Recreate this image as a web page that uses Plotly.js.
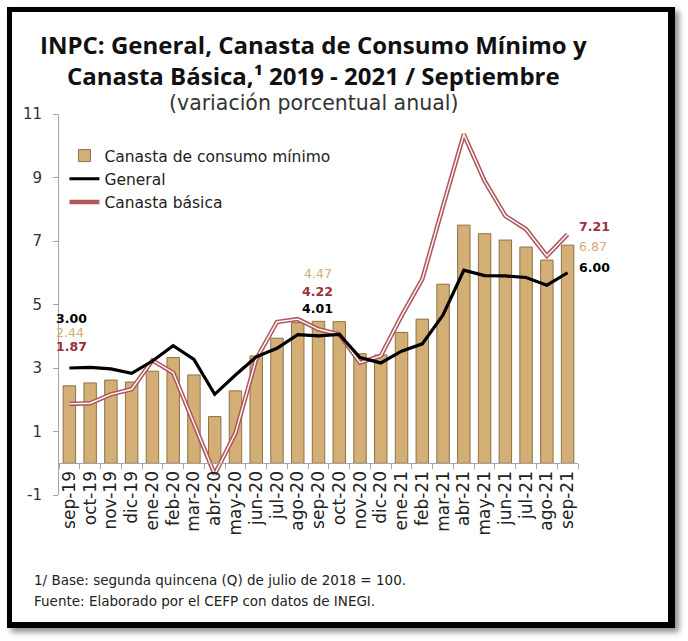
<!DOCTYPE html>
<html>
<head>
<meta charset="utf-8">
<script src="https://cdn.plot.ly/plotly-3.0.1.min.js"></script>
<style>
  html, body { margin:0; padding:0; background:#fff; width:688px; height:641px; overflow:hidden; }
  #frame { position:absolute; left:7px; top:7px; width:668px; height:621px; box-sizing:border-box;
           border:5px solid #000; border-right-width:7px; border-bottom-width:6px;
           box-shadow:4px 4px 6px rgba(0,0,0,0.45); background:#fff; }
  #chart { position:absolute; left:0; top:0; width:688px; height:641px; }
</style>
</head>
<body>
<div id="frame"></div>
<div id="chart"></div>
<script>
// ---- data ----
const months = ['sep-19','oct-19','nov-19','dic-19','ene-20','feb-20','mar-20','abr-20','may-20','jun-20','jul-20','ago-20','sep-20','oct-20','nov-20','dic-20','ene-21','feb-21','mar-21','abr-21','may-21','jun-21','jul-21','ago-21','sep-21'];
const consumoMinimo = [2.44, 2.53, 2.62, 2.56, 2.90, 3.33, 2.78, 1.47, 2.28, 3.38, 3.94, 4.43, 4.47, 4.46, 3.45, 3.41, 4.12, 4.54, 5.64, 7.50, 7.23, 7.03, 6.81, 6.40, 6.87];
const general       = [3.00, 3.02, 2.97, 2.83, 3.22, 3.70, 3.27, 2.17, 2.78, 3.35, 3.62, 4.05, 4.01, 4.06, 3.33, 3.16, 3.53, 3.76, 4.67, 6.08, 5.91, 5.90, 5.85, 5.61, 6.00];
const canastaBasica = [1.87, 1.89, 2.17, 2.33, 3.24, 2.85, 1.25, -0.35, 0.95, 3.28, 4.45, 4.54, 4.22, 4.06, 3.17, 3.38, 4.64, 5.80, 8.10, 10.36, 8.89, 7.79, 7.37, 6.53, 7.21];
const yTicks = [-1, 1, 3, 5, 7, 9, 11];
const labelIdx = [0, 12, 24]; // septiembre de cada año

const cTan = '#D3AF76', cTanLine = '#8E7248', cRed = '#B0575C', cRedText = '#A02E3C', cTanText = '#D2AC76';
const F = 'DejaVu Sans, sans-serif';

const traces = [
  { type:'bar', name:'Canasta de consumo mínimo', x:months, y:consumoMinimo, width:0.6,
    marker:{ color:cTan, line:{ color:cTanLine, width:1 } }, legendrank:1 },
  { type:'scatter', mode:'lines', name:'Canasta básica', x:months, y:canastaBasica,
    line:{ color:cRed, width:4.5 }, legendrank:3 },
  { type:'scatter', mode:'lines', name:'Canasta básica ', x:months, y:canastaBasica,
    line:{ color:'#ffffff', width:1.4 }, showlegend:false, hoverinfo:'skip' },
  { type:'scatter', mode:'lines', name:'General', x:months, y:general,
    line:{ color:'#000000', width:3.2 }, legendrank:2 }
];

// pixel helpers for paper placement (plot area: x 59..578, y 114..495)
const px = v => (v - 59) / 519;
const py = v => (495 - v) / 381;

const annotations = [
  { text:'<b>INPC: General, Canasta de Consumo Mínimo y<br>Canasta Básica,¹ 2019 - 2021 / Septiembre</b>',
    xref:'paper', yref:'paper', x:px(313), y:py(60.5), xanchor:'center', yanchor:'middle', showarrow:false,
    align:'center', font:{ family:'Open Sans, sans-serif', size:24, color:'#111' } }
];

annotations.push({ text:'(variación porcentual anual)', xref:'paper', yref:'paper', x:px(313), y:py(103),
  xanchor:'center', yanchor:'middle', showarrow:false, borderpad:0, font:{ family:F, size:20.5, color:'#333' } });

annotations.push({ text:'1/ Base: segunda quincena (Q) de julio de 2018 = 100.', xref:'paper', yref:'paper',
  x:px(32), y:py(580), xanchor:'left', yanchor:'middle', showarrow:false, font:{ family:F, size:13.5, color:'#222' } });
annotations.push({ text:'Fuente: Elaborado por el CEFP con datos de INEGI.', xref:'paper', yref:'paper',
  x:px(32), y:py(601), xanchor:'left', yanchor:'middle', showarrow:false, font:{ family:F, size:13.5, color:'#222' } });

// value labels for september points
const labelCfg = [
  { xanchor:'left', xshift:-14, offs:{ g:[319], c:[333], b:[347] } },
  { xanchor:'center', xshift:-1, offs:{ g:[309], c:[274], b:[292] } },
  { xanchor:'left', xshift:10, offs:{ g:[268], c:[247], b:[227] } },
];
const pyData = v => (464 - v) / 31.75;
labelIdx.forEach((i, k) => {
  const cfg = labelCfg[k];
  [['g', general, '#000', 'bold'], ['c', consumoMinimo, cTanText, 'normal'], ['b', canastaBasica, cRedText, 'bold']].forEach(([key, arr, col, w]) => {
    annotations.push({ xref:'x', yref:'y', x:months[i], y:pyData(cfg.offs[key][0]), text:arr[i].toFixed(2),
      xanchor:cfg.xanchor, yanchor:'middle', xshift:cfg.xshift, showarrow:false, borderpad:0,
      font:{ family:F, size:12.5, color:col, weight:w } });
  });
});

const layout = {
  width:688, height:641,
  margin:{ l:59, r:110, t:114, b:146 },
  paper_bgcolor:'rgba(0,0,0,0)', plot_bgcolor:'rgba(0,0,0,0)',
  showlegend:true,
  legend:{ x:0.0105, y:py(139), xanchor:'left', yanchor:'top', bgcolor:'rgba(0,0,0,0)',
    font:{ family:F, size:15.5, color:'#222' }, tracegroupgap:0 },
  xaxis:{ type:'category', range:[-0.5, 24.5], anchor:'free', position:1/12,
    showline:true, linecolor:'#A6A6A6', linewidth:1, ticks:'outside', tickson:'boundaries', ticklen:5,
    tickcolor:'#A6A6A6', tickangle:-90, tickfont:{ family:F, size:17, color:'#222' }, showgrid:false },
  yaxis:{ range:[-1, 11], tickmode:'array', tickvals:yTicks, ticktext:yTicks.map(String),
    showline:true, linecolor:'#A6A6A6', linewidth:1, ticks:'outside', ticklen:5, tickcolor:'#A6A6A6',
    ticklabelstandoff:8, tickfont:{ family:F, size:15, color:'#333' }, showgrid:false, zeroline:false },
  bargap:0.4,
  annotations
};

Plotly.newPlot('chart', traces, layout, { displayModeBar:false, staticPlot:true });
</script>
</body>
</html>
